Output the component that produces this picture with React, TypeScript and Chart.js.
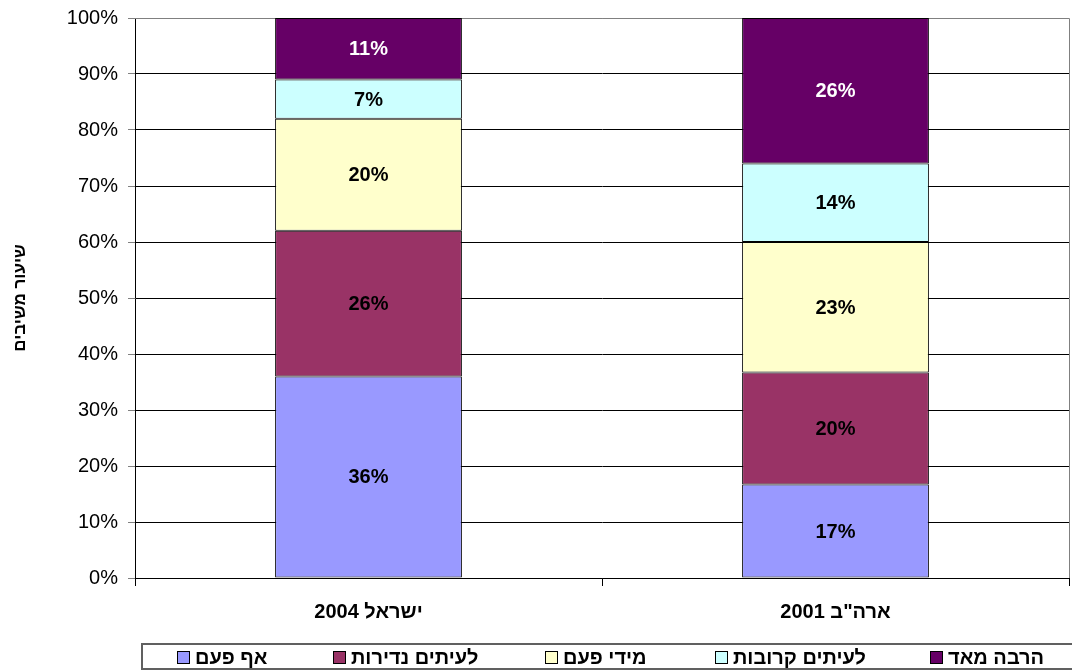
import React, { useEffect, useRef } from "react";
import { Chart, registerables } from "chart.js";

Chart.register(...registerables);

const categories = ["ישראל 2004", 'ארה"ב 2001'];
const seriesNames = ["אף פעם", "לעיתים נדירות", "מידי פעם", "לעיתים קרובות", "הרבה מאד"];
const neverValues = [36, 16.7];
const rarelyValues = [26, 20];
const sometimesValues = [20, 23.3];
const oftenValues = [7, 14];
const veryMuchValues = [11, 26];
const seriesColors = ["#9999FF", "#993366", "#FFFFCC", "#CCFFFF", "#660066"];
const labelColors = ["#000000", "#000000", "#000000", "#000000", "#FFFFFF"];
const yTicks = [0, 10, 20, 30, 40, 50, 60, 70, 80, 90, 100];
const yTitle = "שיעור משיבים";

const FONT = "Arial, 'Liberation Sans', 'DejaVu Sans', sans-serif";
const legendItemX = [177, 333, 545, 715, 930];

export default function App() {
  const ref = useRef<HTMLCanvasElement | null>(null);

  useEffect(() => {
    document.body.style.margin = "0";
    const canvas = ref.current;
    if (!canvas) return;

    const valueSets = [neverValues, rarelyValues, sometimesValues, oftenValues, veryMuchValues];

    const dataLabels = {
      id: "dataLabels",
      afterDatasetsDraw(chart: any) {
        const ctx = chart.ctx;
        ctx.save();
        ctx.font = `bold 20px ${FONT}`;
        ctx.textAlign = "center";
        ctx.textBaseline = "middle";
        chart.data.datasets.forEach((ds: any, i: number) => {
          const meta = chart.getDatasetMeta(i);
          meta.data.forEach((el: any, j: number) => {
            const p = el.getProps(["x", "y", "base"], true);
            const v = ds.data[j];
            ctx.fillStyle = labelColors[i];
            ctx.fillText(Math.round(v) + "%", p.x, (p.y + p.base) / 2 + 1);
          });
        });
        ctx.restore();
      },
    };

    const frame = {
      id: "frame",
      beforeDatasetsDraw(chart: any) {
        const { ctx, chartArea } = chart;
        ctx.save();
        ctx.strokeStyle = "#808080";
        ctx.lineWidth = 1;
        ctx.beginPath();
        ctx.moveTo(chartArea.left, chartArea.top + 0.5);
        ctx.lineTo(chartArea.right + 0.5, chartArea.top + 0.5);
        ctx.lineTo(chartArea.right + 0.5, chartArea.bottom);
        ctx.stroke();
        ctx.restore();
      },
    };

    const customLegend = {
      id: "customLegend",
      afterDraw(chart: any) {
        const ctx = chart.ctx;
        ctx.save();
        ctx.strokeStyle = "#606060";
        ctx.lineWidth = 2;
        ctx.strokeRect(142, 644, 940, 25);
        ctx.font = `bold 20px ${FONT}`;
        ctx.textAlign = "left";
        ctx.textBaseline = "middle";
        chart.data.datasets.forEach((ds: any, i: number) => {
          const x = legendItemX[i];
          ctx.fillStyle = ds.backgroundColor;
          ctx.fillRect(x, 651, 13, 13);
          ctx.strokeStyle = "#000000";
          ctx.lineWidth = 1;
          ctx.strokeRect(x + 0.5, 651.5, 12, 12);
          ctx.fillStyle = "#000000";
          ctx.fillText(ds.label, x + 18, 658);
        });
        ctx.restore();
      },
    };

    const chart = new Chart(canvas, {
      type: "bar",
      data: {
        labels: categories,
        datasets: seriesNames.map((name, i) => ({
          label: name,
          data: valueSets[i],
          backgroundColor: seriesColors[i],
          borderColor: "#000000",
          borderWidth: 1,
          borderSkipped: false,
          categoryPercentage: 1,
          barPercentage: 0.4,
        })),
      },
      options: {
        responsive: false,
        animation: false,
        devicePixelRatio: 1,
        layout: { padding: { top: 18, right: 3, left: 0, bottom: 0 } },
        plugins: {
          legend: { display: false },
          tooltip: { enabled: false },
        },
        scales: {
          x: {
            stacked: true,
            offset: true,
            grid: {
              offset: true,
              drawOnChartArea: false,
              drawTicks: true,
              tickLength: 8,
              tickColor: "#000000",
            },
            border: { color: "#000000", width: 1 },
            ticks: {
              color: "#000000",
              font: { family: FONT, size: 20, weight: "bold" },
              padding: 14,
              maxRotation: 0,
            },
            afterFit(scale: any) {
              scale.height = 93;
              scale.paddingLeft = 0;
              scale.paddingRight = 0;
            },
          },
          y: {
            stacked: true,
            min: 0,
            max: 100,
            afterBuildTicks(scale: any) {
              scale.ticks = yTicks.map((v) => ({ value: v }));
            },
            grid: {
              color: (c: any) => (c.tick && c.tick.value === 100 ? "#808080" : "#000000"),
              tickColor: "#808080",
              tickLength: 7,
              lineWidth: 1,
            },
            border: { color: "#000000", width: 1 },
            ticks: {
              color: "#000000",
              font: { family: FONT, size: 20 },
              padding: 10,
              callback: (v: any) => v + "%",
            },
            title: {
              display: true,
              text: yTitle,
              color: "#000000",
              font: { family: FONT, size: 17, weight: "bold" },
              padding: { top: 10, bottom: 0 },
            },
            afterFit(scale: any) {
              scale.width = 135;
              scale.paddingTop = 0;
              scale.paddingBottom = 0;
            },
          },
        },
      },
      plugins: [frame, dataLabels, customLegend],
    } as any);

    return () => chart.destroy();
  }, []);

  return (
    <div style={{ position: "absolute", left: 0, top: 0, width: 1072, height: 671 }}>
      <canvas ref={ref} width={1072} height={671} dir="rtl" style={{ width: 1072, height: 671 }} />
    </div>
  );
}
